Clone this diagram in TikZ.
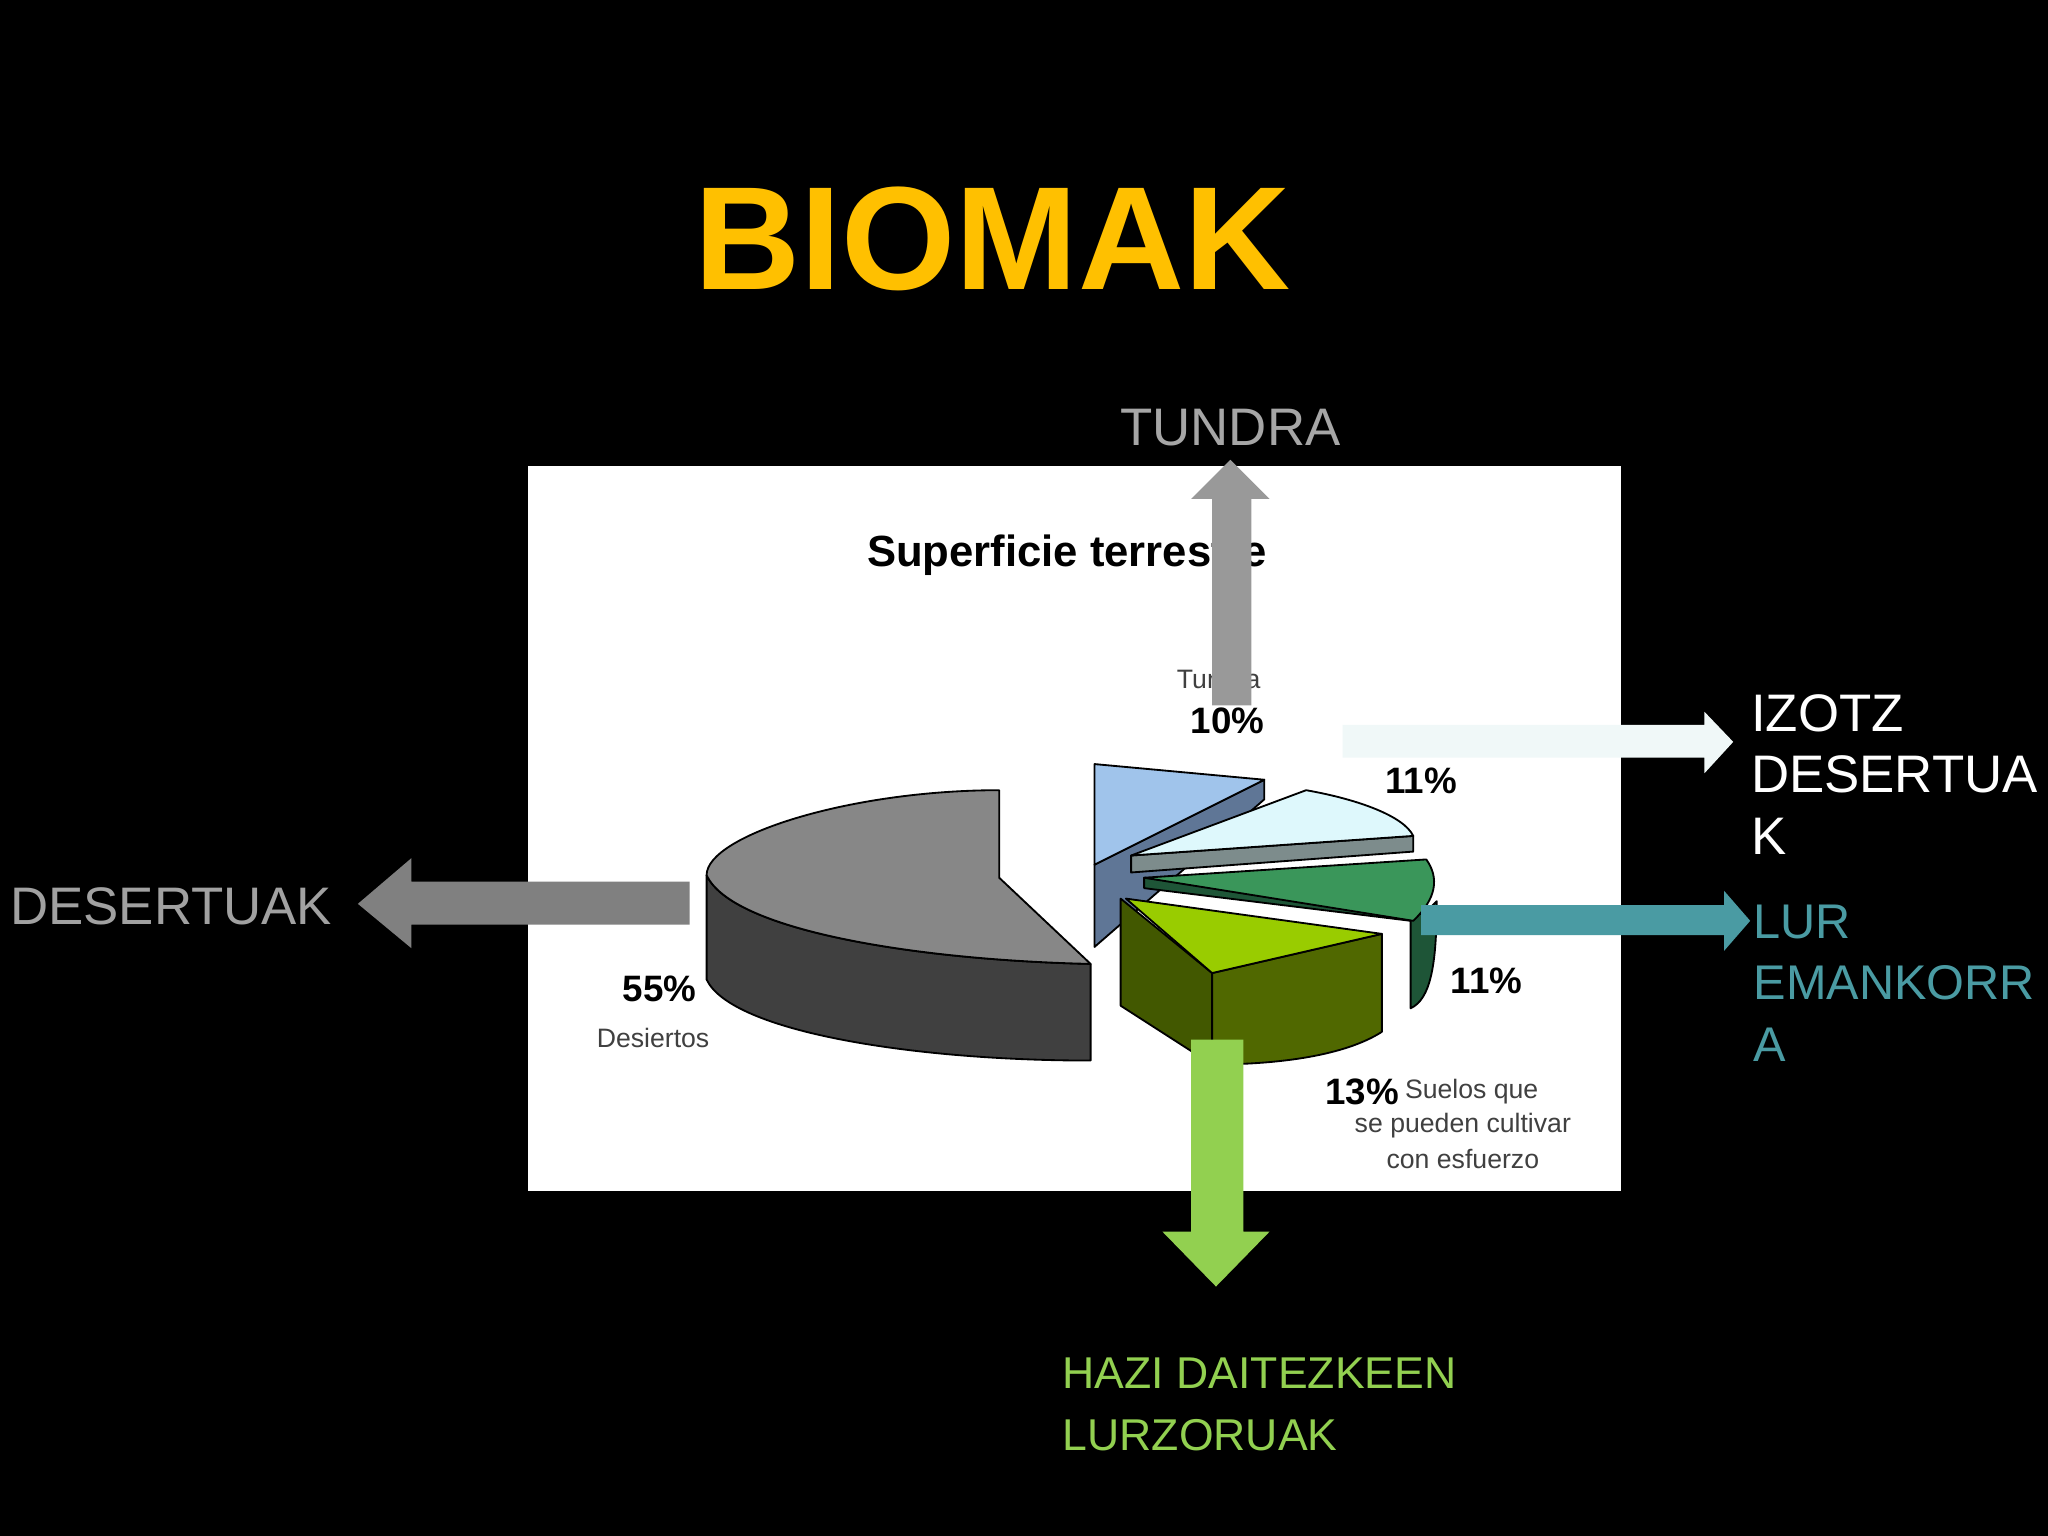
\documentclass[tikz,border=0pt]{standalone}
\usepackage{fontspec}
\setmainfont{Liberation Sans}
\definecolor{ylw}{RGB}{255,192,0}
\definecolor{teal1}{RGB}{74,155,163}
\definecolor{grn1}{RGB}{146,208,80}
\definecolor{limetop}{RGB}{153,204,0}
\definecolor{olive1}{RGB}{80,104,0}
\definecolor{olive2}{RGB}{66,88,0}
\definecolor{fgtop}{RGB}{58,150,90}
\definecolor{fgside}{RGB}{30,85,55}
\definecolor{tuntop}{RGB}{160,196,235}
\definecolor{tunside}{RGB}{95,118,150}
\definecolor{icetop}{RGB}{222,248,252}
\definecolor{iceside}{RGB}{125,140,140}
\definecolor{icearr}{RGB}{240,248,248}
\begin{document}
\begin{tikzpicture}[x=0.01cm,y=-0.01cm,
  lbl/.style={inner sep=0,font=\fontsize{11.5}{13.4}\selectfont,align=left},
  pct/.style={inner sep=0,font=\bfseries\fontsize{8}{9}\selectfont},
  sm/.style={inner sep=0,font=\fontsize{5.8}{7.5}\selectfont,text=black!75},
  pl/.style={draw=black,line width=0.4pt,line join=round}]
\fill[black] (0,0) rectangle (1568,1176);
\useasboundingbox (0,0) rectangle (1568,1176);
\node[inner sep=0,text=ylw,font=\bfseries\fontsize{32}{34}\selectfont] (title) at (760,183) {BIOMAK};
\fill[white] (404,357) rectangle (1241,912);
\node[inner sep=0,font=\bfseries\fontsize{9.5}{11}\selectfont] (sub) at (817,425) {Superficie terrestre};
% desert slice
\filldraw[pl,fill=black!75] (541,670) -- (541,750) .. controls (560,790) and (700,812) .. (835,812) -- (835,738) .. controls (700,735) and (560,712) .. (541,670) -- cycle;
\filldraw[pl,fill=black!47] (765,605) .. controls (650,605) and (541,640) .. (541,670) .. controls (560,712) and (700,735) .. (835,738) -- (765,672) -- cycle;
% tundra
\filldraw[pl,fill=tunside] (968,597) -- (968,612) -- (838,725) -- (838,662) -- cycle;
\filldraw[pl,fill=tuntop] (838,585) -- (968,597) -- (838,662) -- cycle;
% ice
\filldraw[pl,fill=iceside] (866,655) -- (1082,640) -- (1082,652) -- (866,668) -- cycle;
\filldraw[pl,fill=icetop] (866,655) -- (1000,605) .. controls (1040,612) and (1075,625) .. (1082,640) -- cycle;
% fertile
\filldraw[pl,fill=fgside] (876,680) -- (1080,705) -- (1080,772) .. controls (1095,765) and (1100,740) .. (1100,690) -- (1090,700) -- (876,672) -- cycle;
\filldraw[pl,fill=fgtop] (876,672) -- (1092,658) .. controls (1102,672) and (1100,688) .. (1082,705) -- cycle;
% cultivable
\filldraw[pl,fill=olive2] (858,688) -- (928,745) -- (928,815) -- (858,770) -- cycle;
\filldraw[pl,fill=olive1] (928,745) -- (1058,715) -- (1058,790) .. controls (1030,808) and (980,815) .. (928,815) -- cycle;
\filldraw[pl,fill=limetop] (862,688) -- (1058,715) -- (928,745) -- cycle;
% chart labels
\node[sm] (tu) at (933,520) {Tundra};
\node[pct] (p10) at (940,552) {10\%};
\node[pct] (p11a) at (1088,598) {11\%};
\node[pct] (p11b) at (1138,751) {11\%};
\node[pct] (p55) at (505,757) {55\%};
\node[sm] (des) at (500,795) {Desiertos};
\node[pct] (p13) at (1043,836) {13\%};
\node[sm,anchor=west] (s1) at (1075,836) {Suelos que};
\node[sm] (s2) at (1120,862) {se pueden cultivar};
\node[sm] (s3) at (1120,887) {con esfuerzo};
% arrows
\fill[black!40] (928,540) -- (928,382) -- (912,382) -- (942,352) -- (972,382) -- (958,382) -- (958,540) -- cycle;
\node[lbl,text=black!35] (tundra) at (942,327) {TUNDRA};
\fill[icearr] (1028,555) -- (1305,555) -- (1305,545) -- (1327,568) -- (1305,592) -- (1305,580) -- (1028,580) -- cycle;
\node[lbl,text=white,anchor=north west] (izotz) at (1340,531) {IZOTZ\\DESERTUA\\K};
\fill[teal1] (1088,693) -- (1320,693) -- (1320,682) -- (1340,705) -- (1320,728) -- (1320,716) -- (1088,716) -- cycle;
\node[lbl,font=\fontsize{10.6}{13.4}\selectfont,text=teal1,anchor=north west] (lur) at (1342,692) {LUR\\EMANKORR\\A};
\fill[black!50] (528,675) -- (315,675) -- (315,657) -- (274,692) -- (315,726) -- (315,708) -- (528,708) -- cycle;
\node[lbl,text=black!37,anchor=east] (desl) at (255,694) {DESERTUAK};
\fill[grn1] (912,796) -- (952,796) -- (952,943) -- (972,943) -- (931,985) -- (890,943) -- (912,943) -- cycle;
\node[lbl,font=\fontsize{9.7}{13.4}\selectfont,text=grn1,anchor=north west] (hazi) at (813,1039) {HAZI DAITEZKEEN\\LURZORUAK};
\end{tikzpicture}
\end{document}
